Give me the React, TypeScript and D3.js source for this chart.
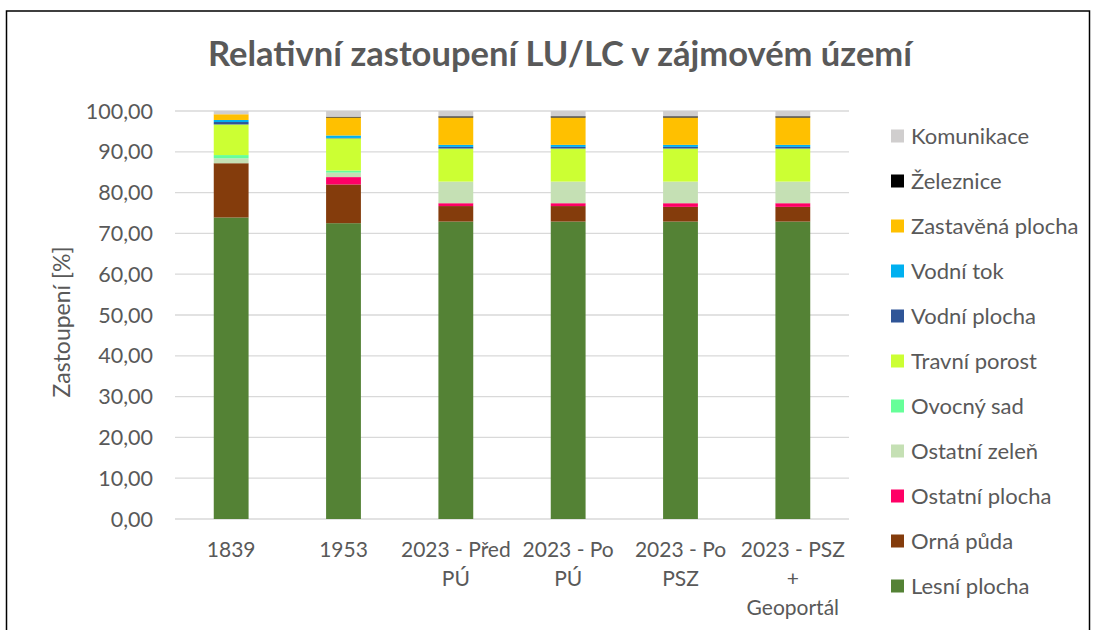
import React, { useEffect, useRef } from "react";
import * as d3 from "d3";

const categories = ["1839", "1953", "2023 - Před PÚ", "2023 - Po PÚ", "2023 - Po PSZ", "2023 - PSZ + Geoportál"];
const categoryLines = [["1839"], ["1953"], ["2023 - Před", "PÚ"], ["2023 - Po", "PÚ"], ["2023 - Po", "PSZ"], ["2023 - PSZ", "+", "Geoportál"]];

const seriesNames = [
  "Lesní plocha", "Orná půda", "Ostatní plocha", "Ostatní zeleň", "Ovocný sad",
  "Travní porost", "Vodní plocha", "Vodní tok", "Zastavěná plocha", "Železnice", "Komunikace",
];
const seriesColors = [
  "#548235", "#843C0C", "#FF0066", "#C5E0B4", "#66FF99",
  "#CCFF33", "#2F5597", "#00B0F0", "#FFC000", "#000000", "#D0CECE",
];

const lesniPlocha = [73.9, 72.5, 72.9, 72.9, 72.9, 72.9];
const ornaPuda = [13.3, 9.5, 3.8, 3.8, 3.6, 3.6];
const ostatniPlocha = [0.0, 1.8, 0.7, 0.7, 0.9, 0.9];
const ostatniZelen = [1.2, 1.1, 5.3, 5.3, 5.3, 5.3];
const ovocnySad = [0.8, 0.5, 0.0, 0.0, 0.0, 0.0];
const travniPorost = [7.5, 7.9, 8.1, 8.1, 8.1, 8.1];
const vodniPlocha = [0.6, 0.1, 0.4, 0.4, 0.4, 0.4];
const vodniTok = [0.5, 0.6, 0.5, 0.5, 0.5, 0.5];
const zastavenaPlocha = [1.4, 4.4, 6.7, 6.7, 6.7, 6.7];
const zeleznice = [0.0, 0.2, 0.3, 0.3, 0.3, 0.3];
const komunikace = [0.8, 1.4, 1.3, 1.3, 1.3, 1.3];

const seriesValues = [
  lesniPlocha, ornaPuda, ostatniPlocha, ostatniZelen, ovocnySad,
  travniPorost, vodniPlocha, vodniTok, zastavenaPlocha, zeleznice, komunikace,
];

const yTicks = [0, 10, 20, 30, 40, 50, 60, 70, 80, 90, 100];

const FONT = "Lato, 'Open Sans', sans-serif";
const TEXT = "#595959";

export default function App() {
  const ref = useRef<SVGSVGElement | null>(null);

  useEffect(() => {
    const svg = d3.select(ref.current);
    svg.selectAll("*").remove();

    const W = 1093, H = 630;
    const x = d3.scaleBand<string>().domain(categories).range([175, 849]).paddingInner(0.69).paddingOuter(0.345);
    const y = d3.scaleLinear().domain([0, 100]).range([519, 111]);

    svg.append("rect").attr("x", 0).attr("y", 0).attr("width", W).attr("height", H).attr("fill", "#fff");
    svg.append("rect").attr("x", 6.5).attr("y", 11).attr("width", 1083).attr("height", 640)
      .attr("fill", "none").attr("stroke", "#000").attr("stroke-width", 1.5);

    svg.append("text").attr("x", 560).attr("y", 66).attr("text-anchor", "middle")
      .attr("font-family", FONT).attr("font-weight", 700).attr("font-size", 35)
      .attr("fill", TEXT).attr("textLength", 704).attr("lengthAdjust", "spacingAndGlyphs")
      .text("Relativní zastoupení LU/LC v zájmovém území");

    // gridlines
    svg.append("g").selectAll("line").data(yTicks).join("line")
      .attr("x1", 175).attr("x2", 849)
      .attr("y1", d => y(d)).attr("y2", d => y(d))
      .attr("stroke", "#d9d9d9").attr("stroke-width", 1.3);

    // y tick labels
    svg.append("g").selectAll("text").data(yTicks).join("text")
      .attr("x", 153).attr("y", d => y(d)).attr("dy", "0.35em")
      .attr("text-anchor", "end").attr("font-family", FONT).attr("font-size", 21.5)
      .attr("fill", TEXT).text(d => d3.format(".2f")(d).replace(".", ","));

    // y axis title
    svg.append("text").attr("transform", "translate(70,322) rotate(-90)")
      .attr("text-anchor", "middle").attr("font-family", FONT).attr("font-size", 23)
      .attr("fill", TEXT).text("Zastoupení [%]");

    // stacked bars
    const rows = categories.map((c, i) => {
      const r: any = { cat: c };
      seriesNames.forEach((s, k) => { r[s] = seriesValues[k][i]; });
      return r;
    });
    const stack = d3.stack<any>().keys(seriesNames)(rows);
    const g = svg.append("g");
    stack.forEach((layer, k) => {
      g.append("g").attr("fill", seriesColors[k]).selectAll("rect").data(layer).join("rect")
        .attr("x", d => x(d.data.cat) as number)
        .attr("width", x.bandwidth())
        .attr("y", d => y(d[1]))
        .attr("height", d => Math.max(0, y(d[0]) - y(d[1])));
    });

    // x labels
    const xl = svg.append("g");
    categories.forEach((c, i) => {
      const cx = (x(c) as number) + x.bandwidth() / 2;
      categoryLines[i].forEach((line, j) => {
        xl.append("text").attr("x", cx).attr("y", 557 + j * 29)
          .attr("text-anchor", "middle").attr("font-family", FONT).attr("font-size", 21)
          .attr("fill", TEXT).text(line);
      });
    });

    // legend (reverse order)
    const legendOrder = seriesNames.map((_, k) => k).reverse();
    const lg = svg.append("g");
    legendOrder.forEach((k, idx) => {
      const cy = 136 + idx * 45;
      lg.append("rect").attr("x", 891).attr("y", cy - 6.5).attr("width", 13).attr("height", 13)
        .attr("fill", seriesColors[k]);
      lg.append("text").attr("x", 911).attr("y", cy).attr("dy", "0.35em")
        .attr("font-family", FONT).attr("font-size", 22).attr("fill", TEXT).text(seriesNames[k]);
    });
  }, []);

  return (
    <svg ref={ref} width={1093} height={630}
      style={{ position: "absolute", left: 0, top: 0, display: "block" }} />
  );
}
